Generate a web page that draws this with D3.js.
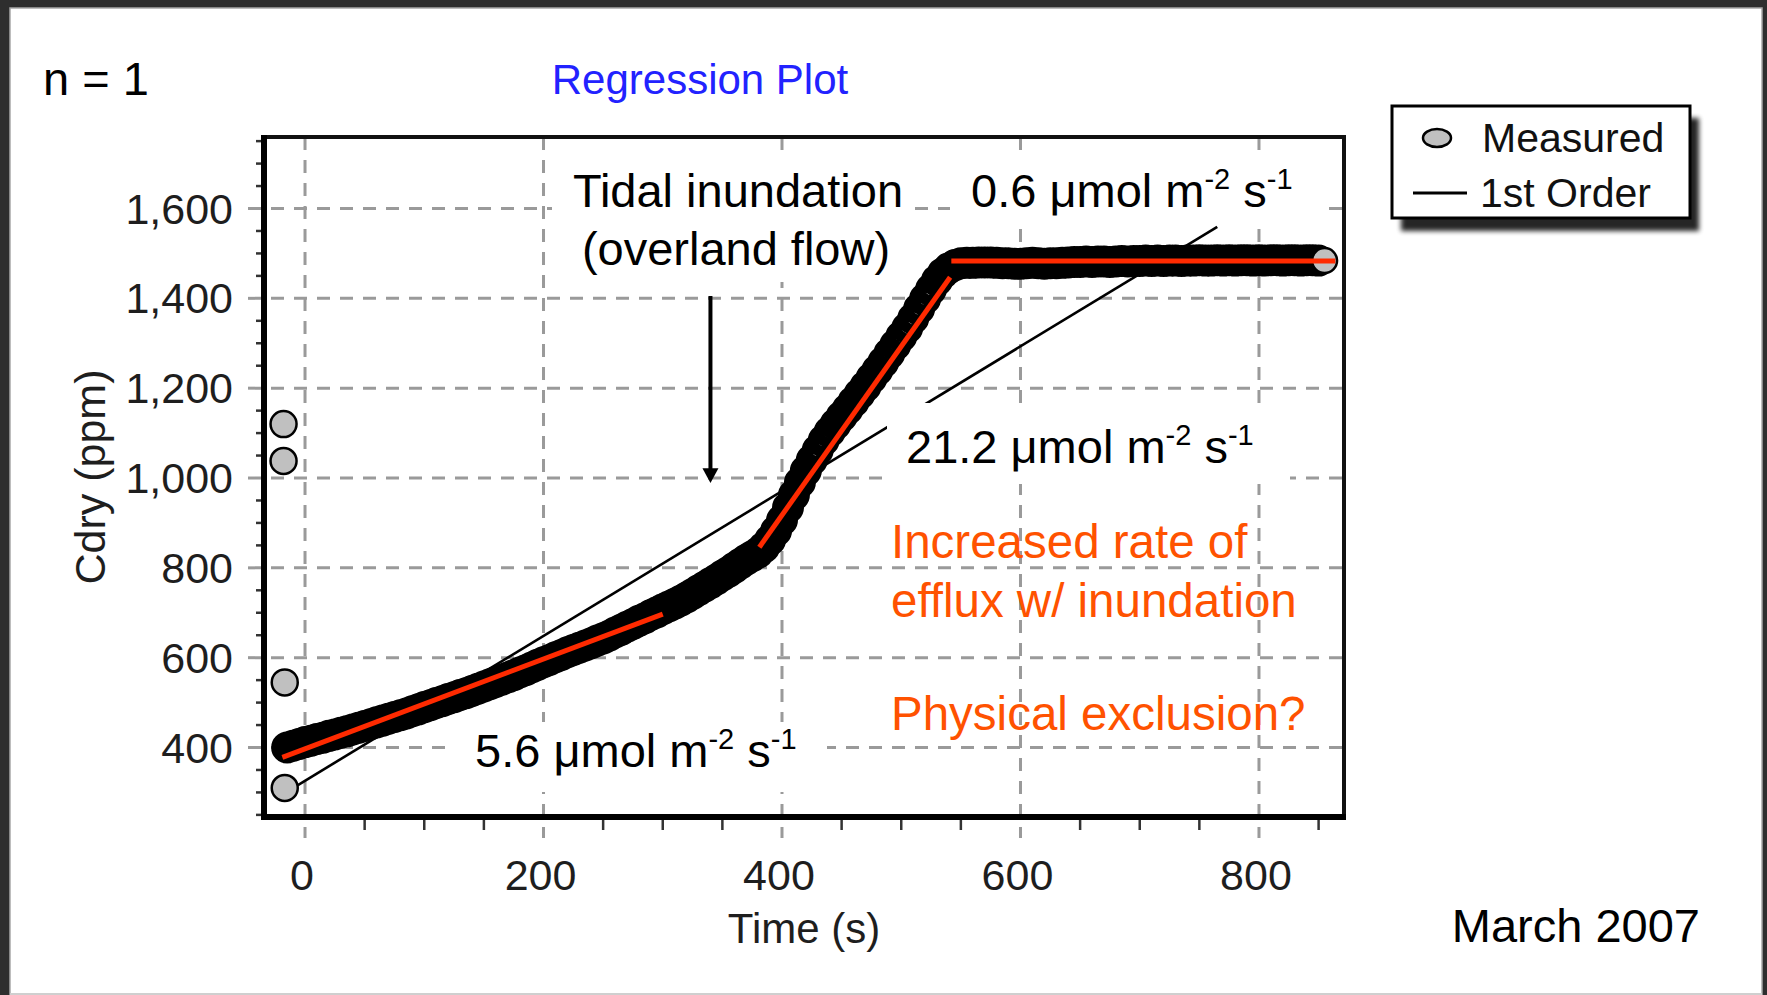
<!DOCTYPE html>
<html><head><meta charset="utf-8">
<script src="https://cdn.jsdelivr.net/npm/d3@7"></script>
<style>
body{margin:0;background:#fff;}
svg{display:block;}
text{font-family:"Liberation Sans",Arial,Helvetica,sans-serif;}
</style>
</head><body>
<svg id="c" width="1767" height="995"></svg>
<script>
// ---------------- data ----------------
const xTicks = [0, 200, 400, 600, 800];
const xTickLabels = ["0", "200", "400", "600", "800"];
const yTicks = [400, 600, 800, 1000, 1200, 1400, 1600];
const yTickLabels = ["400", "600", "800", "1,000", "1,200", "1,400", "1,600"];
const xMinorTicks = [50,100,150,250,300,350,450,500,550,650,700,750,850];
const yMinorTicks = [250,300,350,450,500,550,650,700,750,850,900,950,1050,1100,1150,1250,1300,1350,1450,1500,1550,1650,1700,1750];

// early spurious readings
const outlierT = [-18, -18, -17, -17];
const outlierC = [1120, 1038, 545, 310];

// measured Cdry (ppm) vs time (s), read along the dense band
const measT = [-15,-10,-5,0,5,10,15,20,25,30,35,40,45,50,55,60,65,70,75,80,85,90,95,100,105,110,115,120,125,130,135,140,145,150,155,160,165,170,175,180,185,190,195,200,205,210,215,220,225,230,235,240,245,250,255,260,265,270,275,280,285,290,295,300,305,310,315,320,325,330,335,340,345,350,355,360,365,370,375,380,385,390,395,400,405,410,415,420,425,430,435,440,445,450,455,460,465,470,475,480,485,490,495,500,505,510,515,520,525,530,535,540,545,550,555,560,565,570,575,580,585,590,595,600,605,610,615,620,625,630,635,640,645,650,655,660,665,670,675,680,685,690,695,700,705,710,715,720,725,730,735,740,745,750,755,760,765,770,775,780,785,790,795,800,805,810,815,820,825,830,835,840,845,850,855];
const measC = [400,404,408,412,415,419,422,426,429,433,436,440,444,448,452,456,460,464,468,472,476,481,485,490,494,499,503,508,512,517,521,526,531,536,541,546,551,556,561,567,572,578,584,590,595,601,606,612,617,622,627,632,638,643,649,656,662,669,675,682,688,695,701,708,714,720,727,734,742,750,758,766,774,783,791,800,809,818,826,834,846,862,882,906,934,962,990,1016,1040,1062,1084,1103,1120,1137,1153,1170,1187,1204,1222,1240,1258,1277,1296,1315,1334,1355,1377,1399,1420,1440,1456,1467,1474,1478,1479,1479,1480,1480,1480,1479,1478,1478,1477,1477,1478,1479,1478,1477,1478,1478,1479,1480,1481,1481,1482,1481,1482,1482,1481,1482,1483,1482,1483,1483,1484,1483,1484,1483,1484,1484,1483,1484,1484,1485,1484,1484,1485,1484,1485,1484,1485,1485,1484,1485,1484,1485,1485,1484,1485,1485,1484,1485,1485,1484,1484];

// 1st order regression line (endpoints)
const fitT = [-18, 765];
const fitC = [297, 1559];

// hand-drawn rate segments (red)
const segT = [[-19, 300], [381, 541], [542, 864]];
const segC = [[378, 697], [846, 1447], [1483, 1483]];

// ---------------- layout ----------------
const W = 1767, H = 995;
const plot = {l: 264, r: 1344, t: 137, b: 817};
const x = d3.scaleLinear().domain([-34.4, 871.3]).range([plot.l, plot.r]);
const y = d3.scaleLinear().domain([245.3, 1759.2]).range([plot.b, plot.t]);

const svg = d3.select("#c");
const defs = svg.append("defs");
const blur = defs.append("filter").attr("id", "sh").attr("x", "-10%").attr("y", "-10%").attr("width", "130%").attr("height", "140%");
blur.append("feGaussianBlur").attr("stdDeviation", 2.5);

// outer frame
svg.append("rect").attr("x", 0).attr("y", 0).attr("width", W).attr("height", H).attr("fill", "#2e2e2e");
svg.append("rect").attr("x", 10).attr("y", 8).attr("width", W - 15).attr("height", H - 8).attr("fill", "#fff")
  .attr("stroke", "#a8a8a8").attr("stroke-width", 1.5);
svg.append("rect").attr("x", 10).attr("y", H - 2).attr("width", W - 15).attr("height", 2).attr("fill", "#cfcfcf");

// gridlines
const grid = svg.append("g").attr("stroke", "#9a9a9a").attr("stroke-width", 3).attr("stroke-dasharray", "13,10");
grid.selectAll("line.v").data(xTicks).join("line").attr("class", "v")
  .attr("x1", d => x(d)).attr("x2", d => x(d)).attr("y1", plot.t).attr("y2", plot.b + 21);
grid.selectAll("line.h").data(yTicks).join("line").attr("class", "h")
  .attr("x1", plot.l - 16).attr("x2", plot.r).attr("y1", d => y(d)).attr("y2", d => y(d));

// minor ticks
const mt = svg.append("g").attr("stroke", "#333").attr("stroke-width", 2.5);
mt.selectAll("line.xm").data(xMinorTicks).join("line").attr("class", "xm")
  .attr("x1", d => x(d)).attr("x2", d => x(d)).attr("y1", plot.b).attr("y2", plot.b + 13);
mt.selectAll("line.ym").data(yMinorTicks).join("line").attr("class", "ym")
  .attr("x1", plot.l - 8).attr("x2", plot.l).attr("y1", d => y(d)).attr("y2", d => y(d));

// regression line
svg.append("line").attr("x1", x(fitT[0])).attr("y1", y(fitC[0])).attr("x2", x(fitT[1])).attr("y2", y(fitC[1]))
  .attr("stroke", "#000").attr("stroke-width", 2.6);

// measured band: fills, then (heavy, overlapping) outlines
const meas = measT.map((t, i) => ({t, c: measC[i]}));
const body = meas.slice(0, -1);
const last = meas[meas.length - 1];
svg.append("g").selectAll("circle").data(body).join("circle")
  .attr("cx", d => x(d.t)).attr("cy", d => y(d.c)).attr("r", 11).attr("fill", "#c0c0c0");
svg.append("g").selectAll("circle").data(body).join("circle")
  .attr("cx", d => x(d.t)).attr("cy", d => y(d.c)).attr("r", 11).attr("fill", "none")
  .attr("stroke", "#000").attr("stroke-width", 10);
svg.append("circle").attr("cx", x(last.t)).attr("cy", y(last.c)).attr("r", 12.5)
  .attr("fill", "#c0c0c0").attr("stroke", "#000").attr("stroke-width", 2.5);

// outliers
svg.append("g").selectAll("circle").data(outlierT.map((t, i) => ({t, c: outlierC[i]}))).join("circle")
  .attr("cx", d => x(d.t)).attr("cy", d => y(d.c)).attr("r", 13)
  .attr("fill", "#c0c0c0").attr("stroke", "#000").attr("stroke-width", 2.5);

// plot frame
svg.append("rect").attr("x", plot.l).attr("y", plot.t).attr("width", plot.r - plot.l).attr("height", plot.b - plot.t)
  .attr("fill", "none").attr("stroke", "#111").attr("stroke-width", 4);
svg.append("line").attr("x1", plot.l).attr("x2", plot.l).attr("y1", plot.t - 2).attr("y2", plot.b + 3)
  .attr("stroke", "#000").attr("stroke-width", 6);
svg.append("line").attr("x1", plot.l - 3).attr("x2", plot.r + 2).attr("y1", plot.b).attr("y2", plot.b)
  .attr("stroke", "#000").attr("stroke-width", 6);

// red rate segments
svg.append("g").selectAll("line").data(segT.map((t, i) => ({t, c: segC[i]}))).join("line")
  .attr("x1", d => x(d.t[0])).attr("y1", d => y(d.c[0])).attr("x2", d => x(d.t[1])).attr("y2", d => y(d.c[1]))
  .attr("stroke", "#ff2a00").attr("stroke-width", 5);

// white label boxes
const boxes = [[552, 150, 360, 132], [950, 150, 372, 75], [887, 403, 403, 81], [450, 722, 377, 70]];
svg.append("g").selectAll("rect").data(boxes).join("rect")
  .attr("x", d => d[0]).attr("y", d => d[1]).attr("width", d => d[2]).attr("height", d => d[3]).attr("fill", "#fff");

// annotation texts
function rate(xp, yp, num) {
  const t = svg.append("text").attr("x", xp).attr("y", yp).attr("font-size", 47).attr("fill", "#000");
  t.append("tspan").text(num + " \u03bcmol m");
  t.append("tspan").attr("font-size", 29).attr("dy", -18).text("-2");
  t.append("tspan").attr("dy", 18).text(" s");
  t.append("tspan").attr("font-size", 29).attr("dy", -18).text("-1");
}
rate(971, 207, "0.6");
rate(906, 463, "21.2");
rate(475, 767, "5.6");

svg.append("text").attr("x", 738).attr("y", 207).attr("text-anchor", "middle").attr("font-size", 47).text("Tidal inundation");
svg.append("text").attr("x", 736).attr("y", 265).attr("text-anchor", "middle").attr("font-size", 47).text("(overland flow)");

const orange = "#ff5200";
[["Increased rate of", 558], ["efflux w/ inundation", 617], ["Physical exclusion?", 730]].forEach(([s, yy]) => {
  svg.append("text").attr("x", 891).attr("y", yy).attr("font-size", 47.5).attr("fill", orange).text(s);
});

// arrow
const ax = x(340);
svg.append("line").attr("x1", ax).attr("x2", ax).attr("y1", y(1405)).attr("y2", y(1020))
  .attr("stroke", "#000").attr("stroke-width", 4);
svg.append("path").attr("d", `M${ax - 8},${y(1022)} L${ax + 8},${y(1022)} L${ax},${y(989)} Z`).attr("fill", "#000");

// tick labels
svg.append("g").selectAll("text").data(yTicks).join("text")
  .attr("x", 233).attr("y", d => y(d) + 15).attr("text-anchor", "end").attr("font-size", 43).attr("fill", "#1e1e1e")
  .text((d, i) => yTickLabels[i]);
svg.append("g").selectAll("text").data(xTicks).join("text")
  .attr("x", d => x(d) - 3).attr("y", 890).attr("text-anchor", "middle").attr("font-size", 43).attr("fill", "#1e1e1e")
  .text((d, i) => xTickLabels[i]);

// axis titles
svg.append("text").attr("x", (plot.l + plot.r) / 2).attr("y", 943).attr("text-anchor", "middle")
  .attr("font-size", 42).attr("fill", "#1e1e1e").text("Time (s)");
svg.append("text").attr("transform", `translate(105,${(plot.t + plot.b) / 2}) rotate(-90)`).attr("text-anchor", "middle")
  .attr("font-size", 43).attr("fill", "#1e1e1e").text("Cdry (ppm)");

// title and corner texts
svg.append("text").attr("x", 700).attr("y", 94).attr("text-anchor", "middle").attr("font-size", 42)
  .attr("fill", "#2222ff").text("Regression Plot");
svg.append("text").attr("x", 43).attr("y", 95).attr("font-size", 47).attr("fill", "#000").text("n = 1");
svg.append("text").attr("x", 1700).attr("y", 942).attr("text-anchor", "end").attr("font-size", 47).attr("fill", "#000").text("March 2007");

// legend
const lg = svg.append("g");
lg.append("rect").attr("x", 1401).attr("y", 118).attr("width", 298).attr("height", 113).attr("fill", "#000")
  .attr("opacity", 0.85).attr("filter", "url(#sh)");
lg.append("rect").attr("x", 1392).attr("y", 106).attr("width", 298).attr("height", 112)
  .attr("fill", "#fff").attr("stroke", "#000").attr("stroke-width", 3);
lg.append("ellipse").attr("cx", 1437).attr("cy", 138).attr("rx", 14).attr("ry", 9)
  .attr("fill", "#c0c0c0").attr("stroke", "#000").attr("stroke-width", 2.5);
lg.append("text").attr("x", 1482).attr("y", 152).attr("font-size", 41).attr("fill", "#111").text("Measured");
lg.append("line").attr("x1", 1413).attr("x2", 1467).attr("y1", 193).attr("y2", 193).attr("stroke", "#000").attr("stroke-width", 3);
lg.append("text").attr("x", 1480).attr("y", 207).attr("font-size", 41).attr("fill", "#111").text("1st Order");
</script>
</body></html>
